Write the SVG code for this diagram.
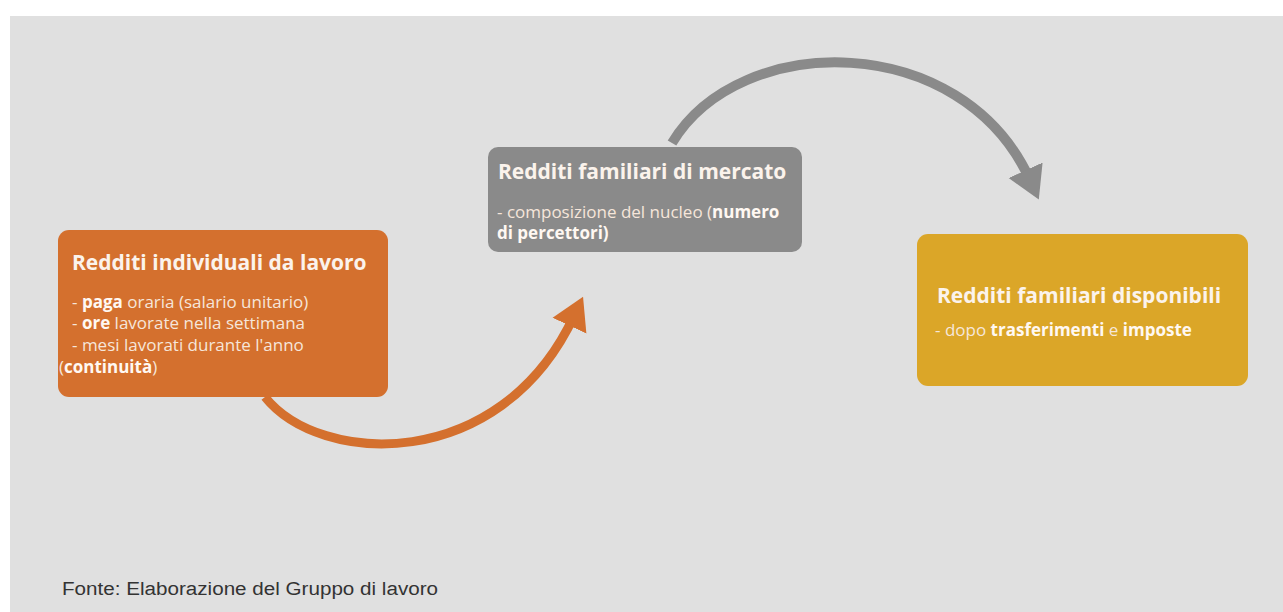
<svg xmlns="http://www.w3.org/2000/svg" width="1283" height="612" viewBox="0 0 1283 612">
  <style>
    .title { font-family: "Open Sans", "Noto Sans", sans-serif; font-weight: 700; font-size: 21px; fill: #fbf3ec; }
    .body { font-family: "Open Sans", "Noto Sans", sans-serif; font-size: 17px; fill: #f6e6da; }
    .body tspan.b { font-weight: 700; fill: #fff8f2; }
    .src { font-family: "Liberation Sans", Arial, sans-serif; font-size: 18px; fill: #333333; }
  </style>
  <defs>
    <marker id="headOrange" markerUnits="userSpaceOnUse" markerWidth="40" markerHeight="40" viewBox="-4 -15 30 30" refX="4" refY="0" orient="auto">
      <polygon points="-4,-14 20,0 -4,14" fill="#d4702e"/>
    </marker>
    <marker id="headGray" markerUnits="userSpaceOnUse" markerWidth="40" markerHeight="40" viewBox="-4 -15 30 30" refX="4" refY="0" orient="auto">
      <polygon points="-4,-14 20,0 -4,14" fill="#8a8a8a"/>
    </marker>
  </defs>

  <!-- page -->
  <rect x="0" y="0" width="1283" height="612" fill="#ffffff"/>
  <rect x="10" y="16" width="1273" height="596" fill="#e0e0e0"/>

  <!-- connectors -->
  <g id="connectors" fill="none">
    <path d="M265,397 C320,466 500,474 574,316" stroke="#d4702e" stroke-width="9" marker-end="url(#headOrange)"/>
    <path d="M672,143 C740,30 962,30 1030,180" stroke="#8a8a8a" stroke-width="10" marker-end="url(#headGray)"/>
  </g>

  <!-- individual incomes -->
  <g id="node-individuali">
    <rect x="58" y="230" width="330" height="167" rx="11" fill="#d4702e"/>
    <text class="title" x="72" y="270">Redditi individuali da lavoro</text>
    <text class="body" x="72" y="308">- <tspan class="b">paga</tspan> oraria (salario unitario)</text>
    <text class="body" x="72" y="329">- <tspan class="b">ore</tspan> lavorate nella settimana</text>
    <text class="body" x="72" y="351">- mesi lavorati durante l'anno</text>
    <text class="body" x="59" y="373">(<tspan class="b">continuità</tspan>)</text>
  </g>

  <!-- household market incomes -->
  <g id="node-mercato">
    <rect x="488" y="147" width="314" height="105" rx="10" fill="#8a8a8a"/>
    <text class="title" x="498" y="179">Redditi familiari di mercato</text>
    <text class="body" x="497" y="218">- composizione del nucleo (<tspan class="b">numero</tspan></text>
    <text class="body" x="497" y="239"><tspan class="b">di percettori)</tspan></text>
  </g>

  <!-- household disposable incomes -->
  <g id="node-disponibili">
    <rect x="917" y="234" width="331" height="152" rx="11" fill="#dba628"/>
    <text class="title" x="937" y="303">Redditi familiari disponibili</text>
    <text class="body" x="935" y="336">- dopo <tspan class="b">trasferimenti</tspan> e <tspan class="b">imposte</tspan></text>
  </g>

  <!-- source note -->
  <text class="src" x="62" y="595" textLength="376" lengthAdjust="spacingAndGlyphs">Fonte: Elaborazione del Gruppo di lavoro</text>
</svg>
